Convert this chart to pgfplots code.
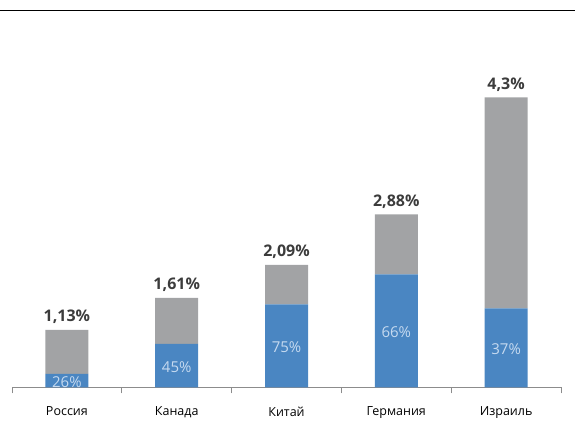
\documentclass[border=0pt]{standalone}
\usepackage{pgfplots}
\usepackage{pgfplotstable}
\pgfplotsset{compat=1.18}
\usepackage{fontspec}
\setmainfont{Open Sans}
\definecolor{barblue}{HTML}{4A86C2}
\definecolor{bargrey}{HTML}{A2A3A5}
\definecolor{labelgrey}{HTML}{3C3C3C}
\definecolor{inlabel}{HTML}{C6DAF0}
\definecolor{axisgrey}{HTML}{8C8C8C}

% bar segment heights as drawn, share label and total label
\pgfplotstableread{
x blue grey share total
0 13.5 44   26 1,13
1 43.5 46   45 1,61
2 83   39.5 75 2,09
3 113  60   66 2,88
4 79   211  37 4,3
}\shares

\begin{document}
\begin{tikzpicture}[x=1bp,y=1bp]
\useasboundingbox (0,0) rectangle (575,439);
\draw[line width=1.8bp] (0,428.4) -- (575,428.4);
\begin{axis}[
    at={(12bp,51.5bp)}, anchor=south west,
    scale only axis, width=549bp, height=300bp,
    xmin=-0.5, xmax=4.5, ymin=0, ymax=300,
    ybar stacked, bar width=43bp,
    axis x line=bottom, axis y line=none,
    x axis line style={-, draw=axisgrey, line width=1bp},
    xtick={0,...,4},
    xticklabels={Россия,Канада,Китай,Германия,Израиль},
    major tick length=0pt,
    minor xtick={-0.5,0.5,...,4.5},
    minor tick length=6bp, tick align=outside,
    minor tick style={draw=axisgrey, line width=0.8bp},
    xticklabel style={font=\fontsize{12.5bp}{15bp}\selectfont, text=black, yshift=-16bp},
    ytick=\empty,
    clip=false,
    point meta=explicit symbolic,
    nodes near coords={\pgfplotspointmeta\%},
]
\addplot[fill=barblue, draw=none,
    every node near coord/.style={anchor=center, text=inlabel,
        font=\fontsize{15bp}{18bp}\selectfont, yshift=-1bp}]
  table[x=x, y=blue, meta=share] {\shares};
\addplot[fill=bargrey, draw=none,
    visualization depends on={\thisrow{grey} \as \greyh},
    every node near coord/.style={anchor=center, text=labelgrey,
        font=\fontsize{16bp}{19bp}\selectfont\bfseries, yshift={0.5*\greyh*1bp+13bp}}]
  table[x=x, y=grey, meta=total] {\shares};
\end{axis}
\end{tikzpicture}
\end{document}
